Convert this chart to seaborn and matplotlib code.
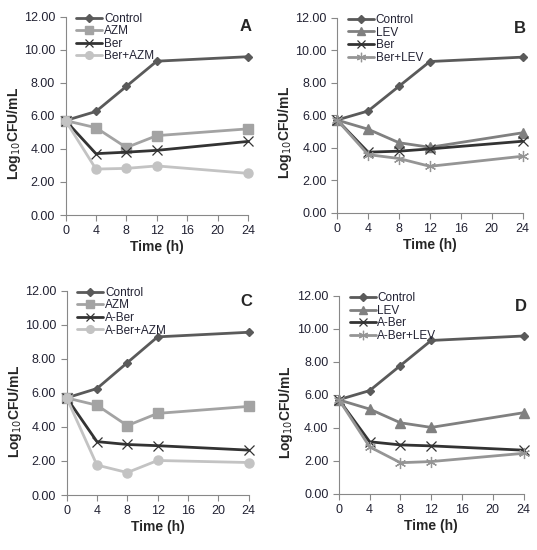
import seaborn as sns
import pandas as pd
from matplotlib import pyplot as plt

time_h = [0, 4, 8, 12, 24]

control = [5.71, 6.26, 7.78, 9.30, 9.57]
azm = [5.71, 5.28, 4.08, 4.80, 5.21]
levo = [5.70, 5.14, 4.31, 4.03, 4.92]

ber_a = [5.71, 3.71, 3.80, 3.91, 4.45]
ber_azm = [5.71, 2.78, 2.82, 2.97, 2.52]
ber_b = [5.70, 3.73, 3.79, 3.93, 4.40]
ber_lev = [5.70, 3.58, 3.34, 2.86, 3.48]

aber_c = [5.72, 3.14, 2.97, 2.90, 2.64]
aber_azm = [5.72, 1.76, 1.32, 2.03, 1.91]
aber_d = [5.72, 3.16, 2.97, 2.91, 2.65]
aber_lev = [5.72, 2.85, 1.89, 1.96, 2.46]

panel_labels = ["A", "B", "C", "D"]

# style per series type
styles = {
    "control": dict(color="#5a5a5a", marker="D", ms=4.5, mew=1),
    "azm": dict(color="#a3a3a3", marker="s", ms=6.5, mew=1),
    "lev": dict(color="#808080", marker="^", ms=6.5, mew=1),
    "ber": dict(color="#333333", marker="x", ms=7, mew=0.9),
    "ber_azm": dict(color="#c3c3c3", marker="o", ms=6.5, mew=1),
    "ber_lev": dict(color="#959595", marker=(6, 2, 0), ms=8, mew=0.9),
}

panels = [
    [("Control", control, "control"), ("AZM", azm, "azm"),
     ("Ber", ber_a, "ber"), ("Ber+AZM", ber_azm, "ber_azm")],
    [("Control", control, "control"), ("LEV", levo, "lev"),
     ("Ber", ber_b, "ber"), ("Ber+LEV", ber_lev, "ber_lev")],
    [("Control", control, "control"), ("AZM", azm, "azm"),
     ("A-Ber", aber_c, "ber"), ("A-Ber+AZM", aber_azm, "ber_azm")],
    [("Control", control, "control"), ("LEV", levo, "lev"),
     ("A-Ber", aber_d, "ber"), ("A-Ber+LEV", aber_lev, "ber_lev")],
]

rects = [
    [0.122, 0.609, 0.340, 0.361],
    [0.628, 0.613, 0.345, 0.355],
    [0.124, 0.100, 0.339, 0.371],
    [0.631, 0.102, 0.344, 0.360],
]

sns.set_style("white")
plt.rcParams["font.family"] = ["Liberation Sans", "DejaVu Sans"]

fig = plt.figure(figsize=(5.37, 5.5), dpi=100)

for rect, series, letter in zip(rects, panels, panel_labels):
    ax = fig.add_axes(rect)
    for name, vals, key in series:
        st = styles[key]
        df = pd.DataFrame({"Time": time_h, "CFU": vals})
        sns.lineplot(df, x="Time", y="CFU", ax=ax, color=st["color"],
                     marker=st["marker"], markersize=st["ms"], linewidth=2,
                     markeredgecolor=st["color"], markeredgewidth=st["mew"],
                     label=name, clip_on=False, zorder=3)
    ax.set_xlim(0, 24)
    ax.set_ylim(0, 12)
    ax.set_xticks([0, 4, 8, 12, 16, 20, 24])
    ax.set_yticks([0, 2, 4, 6, 8, 10, 12])
    ax.set_yticklabels([f"{v:.2f}" for v in range(0, 13, 2)])
    ax.tick_params(direction="out", length=4, width=0.8, color="#888888",
                   labelsize=9, labelcolor="#222233", left=True, bottom=True)
    for s in ["top", "right"]:
        ax.spines[s].set_visible(False)
    for s in ["left", "bottom"]:
        ax.spines[s].set_color("#888888")
        ax.spines[s].set_linewidth(0.8)
    ax.set_xlabel("Time (h)", fontsize=10, fontweight="bold", labelpad=2)
    ax.set_ylabel("Log$_{10}$CFU/mL", fontsize=10, fontweight="bold")
    ax.yaxis.set_label_coords(-0.235, 0.41)
    ax.text(1.02, 0.985, letter, transform=ax.transAxes, ha="right", va="top",
            fontsize=12, fontweight="bold")
    leg = ax.legend(loc="upper left", bbox_to_anchor=(0.02, 1.055), frameon=False,
                    fontsize=8.5, handlelength=2.2, handletextpad=0.15,
                    labelspacing=0.05, borderaxespad=0.2, markerscale=0.85)
    leg.set_zorder(5)
    for t in leg.get_texts():
        t.set_color("#222233")

fig.savefig("out.png", dpi=100)
